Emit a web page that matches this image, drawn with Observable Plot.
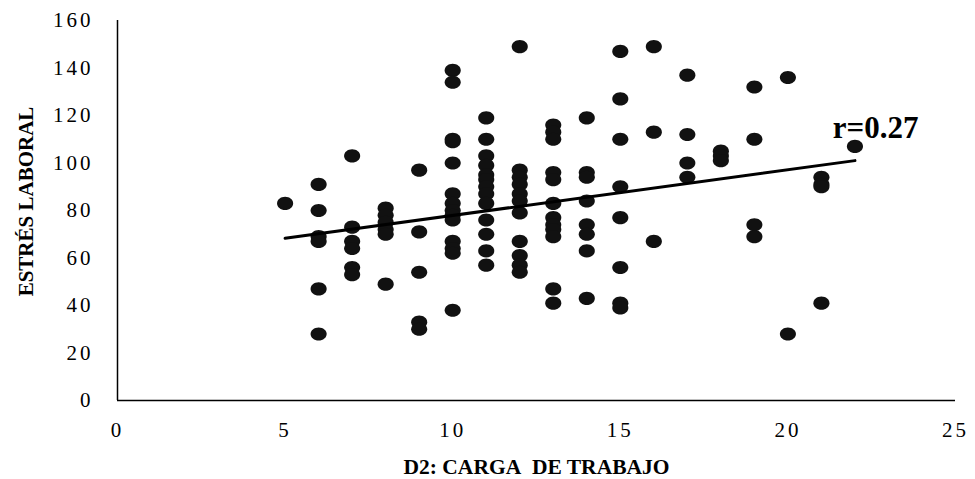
<!DOCTYPE html>
<html><head><meta charset="utf-8">
<script src="https://cdn.jsdelivr.net/npm/d3@7"></script>
<script src="https://cdn.jsdelivr.net/npm/@observablehq/plot@0.6"></script>
<style>
body{margin:0;background:#fff}
g[aria-label$="tick label"] text{letter-spacing:3px}
</style>
</head><body><div id="chart"></div>
<script>
// D2: Carga de trabajo (x) and Estrés laboral (y), one entry per respondent
const carga = [
  5,
  6,6,6,6,6,6,
  7,7,7,7,7,7,
  8,8,8,8,8,8,
  9,9,9,9,9,
  10,10,10,10,10,10,10,10,10,10,10,10,10,10,
  11,11,11,11,11,11,11,11,11,11,11,11,11,
  12,12,12,12,12,12,12,12,12,12,12,
  13,13,13,13,13,13,13,13,13,13,13,13,
  14,14,14,14,14,14,14,14,
  15,15,15,15,15,15,15,15,
  16,16,16,
  17,17,17,17,
  18,18,18,
  19,19,19,19,
  20,20,
  21,21,21,21,
  22
];
const estres = [
  83,
  91,80,69,67,47,28,
  103,73,67,64,56,53,
  81,78,75,72,70,49,
  97,71,54,33,30,
  139,134,110,109,100,87,83,80,78,76,67,64,62,38,
  119,110,103,99,95,93,90,87,83,76,70,63,57,
  149,97,94,91,87,84,79,67,61,57,54,
  116,113,110,96,93,83,77,74,72,69,47,41,
  119,96,94,84,74,70,63,43,
  147,127,110,90,77,56,41,39,
  149,113,67,
  137,112,100,94,
  105,103,101,
  132,110,74,69,
  136,28,
  94,91,90,41,
  107
];
// Linear trend line as drawn in the chart
const trendX = [5, 22];
const trendY = [68.3, 101];
const xTicks = [0, 5, 10, 15, 20, 25];
const yTicks = [0, 20, 40, 60, 80, 100, 120, 140, 160];
const rLabel = "r=0.27";
const xTitle = "D2: CARGA\u00a0 DE TRABAJO";
const yTitle = "ESTRÉS LABORAL";

const points = carga.map((c, i) => ({carga: c, estres: estres[i]}));
const trend = trendX.map((t, i) => ({carga: t, estres: trendY[i]}));

// slightly wide ellipse symbol, like the original markers
const ellipse = {
  draw(ctx, size) {
    const r = Math.sqrt(size / Math.PI);
    const rx = r * 1.15, ry = r * 0.93, k = 0.5523;
    const kx = k * rx, ky = k * ry;
    ctx.moveTo(rx, 0);
    ctx.bezierCurveTo(rx, ky, kx, ry, 0, ry);
    ctx.bezierCurveTo(-kx, ry, -rx, ky, -rx, 0);
    ctx.bezierCurveTo(-rx, -ky, -kx, -ry, 0, -ry);
    ctx.bezierCurveTo(kx, -ry, rx, -ky, rx, 0);
    ctx.closePath();
  }
};

const chart = Plot.plot({
  width: 975,
  height: 479,
  marginLeft: 117,
  marginRight: 20,
  marginTop: 20,
  marginBottom: 79,
  style: {fontFamily: "'Liberation Serif', 'Times New Roman', serif", fontSize: "21px", color: "#000", background: "#fff"},
  x: {domain: [0, 25]},
  y: {domain: [0, 160]},
  marks: [
    Plot.axisX({ticks: xTicks, tickSize: 0, tickPadding: 22, label: null, tickFormat: d => String(d)}),
    Plot.axisY({ticks: yTicks, tickSize: 0, tickPadding: 24, label: null, tickFormat: d => String(d)}),
    Plot.ruleX([0], {stroke: "#000", strokeWidth: 1.5}),
    Plot.ruleY([0], {stroke: "#000", strokeWidth: 1.5}),
    Plot.dot(points, {x: "carga", y: "estres", r: 7, symbol: ellipse, fill: "#111", stroke: "none"}),
    Plot.line(trend, {x: "carga", y: "estres", stroke: "#000", strokeWidth: 3}),
    Plot.text([rLabel], {text: d => d, frameAnchor: "top-right", textAnchor: "end", dx: -37, dy: 108, lineAnchor: "middle", fontSize: 31, fontWeight: "bold"}),
    Plot.text([xTitle], {text: d => d, frameAnchor: "bottom", textAnchor: "middle", dy: 67, lineAnchor: "middle", fontSize: 21.5, fontWeight: "bold"}),
    Plot.text([yTitle], {text: d => d, frameAnchor: "left", textAnchor: "middle", rotate: -90, dx: -91, dy: -9, lineAnchor: "middle", fontSize: 21, fontWeight: "bold"})
  ]
});
document.getElementById("chart").appendChild(chart);
</script>
</body></html>
